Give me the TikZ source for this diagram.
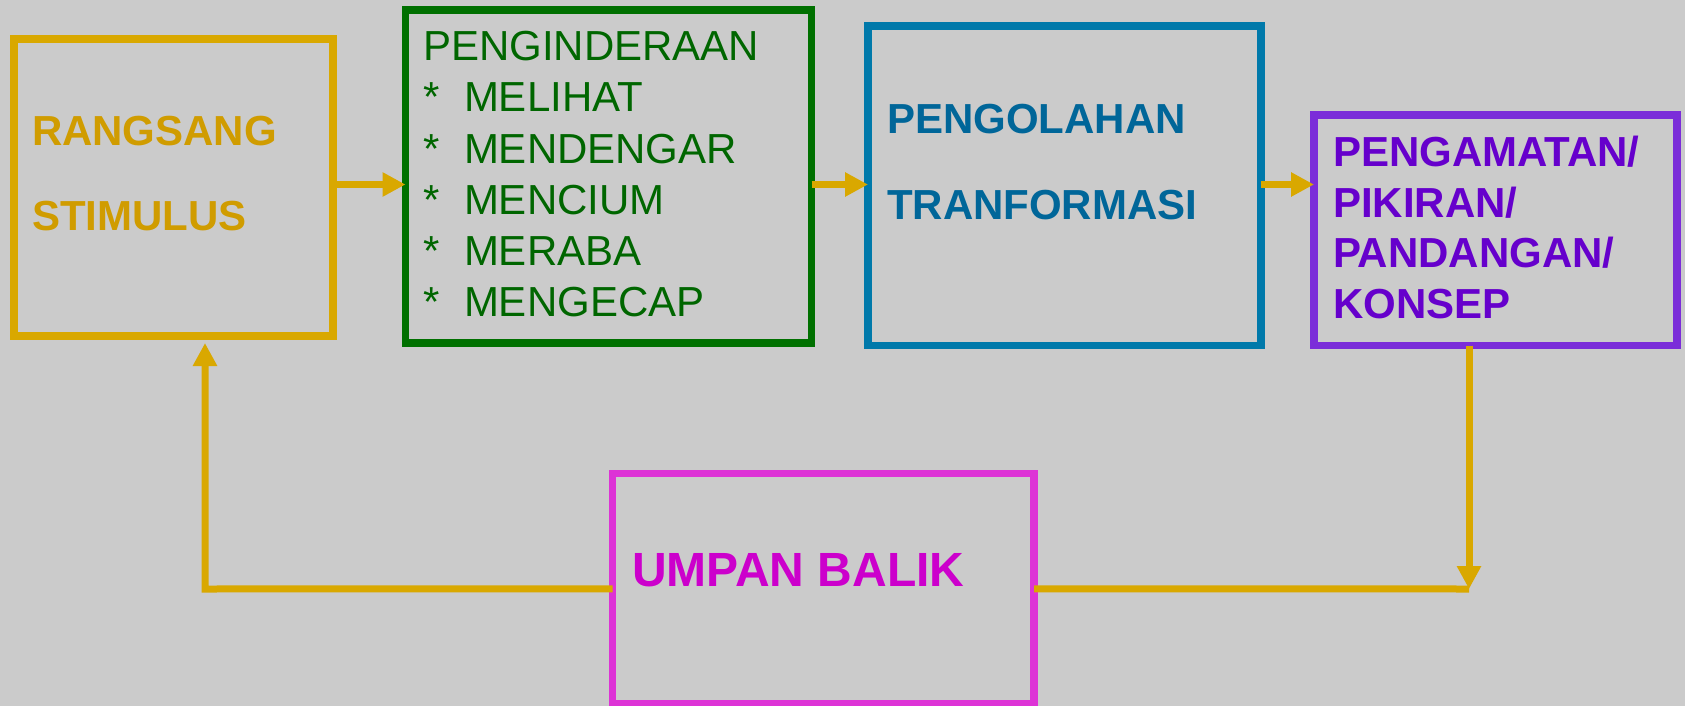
\documentclass[tikz,border=0pt]{standalone}
\usepackage{fontspec}
\setmainfont{Liberation Sans}
\usetikzlibrary{arrows.meta}
\definecolor{bg}{HTML}{CBCBCB}
\definecolor{gold}{HTML}{D9A800}
\definecolor{goldtxt}{HTML}{D09C00}
\definecolor{grn}{HTML}{007000}
\definecolor{grntxt}{HTML}{006600}
\definecolor{blu}{HTML}{0079AA}
\definecolor{blutxt}{HTML}{006699}
\definecolor{pur}{HTML}{7B2DD9}
\definecolor{purtxt}{HTML}{6600CC}
\definecolor{mag}{HTML}{DD33D6}
\definecolor{magtxt}{HTML}{CC00CC}
\begin{document}
\begin{tikzpicture}[x=1pt,y=-1pt,
  box/.style={draw,rectangle,inner sep=0pt,outer sep=0pt,line width=7.5pt},
  txt/.style={anchor=base west,inner sep=0pt,outer sep=0pt,font=\fontsize{42}{50}\selectfont},
  btxt/.style={txt,font=\fontsize{42}{50}\selectfont\bfseries},
  conn/.style={draw=gold,line width=7pt},
  arr/.style={conn,-{Triangle[length=23pt,width=23pt]}}]
\useasboundingbox[fill=bg] (0,0) rectangle (1685,706);
% boxes
\node[box,draw=gold,minimum width=319pt,minimum height=297pt] (ys) at (173.5,187.5) {};
\node[box,draw=grn,minimum width=406pt,minimum height=333pt] (gr) at (608.5,176.5) {};
\node[box,draw=blu,minimum width=393pt,minimum height=319.5pt] (bl) at (1064.5,185.75) {};
\node[box,draw=pur,minimum width=363pt,minimum height=230.5pt] (pu) at (1495.5,230.25) {};
\node[box,draw=mag,minimum width=421.5pt,minimum height=230.5pt] (ub) at (823.25,588.75) {};
% texts
\node[btxt,text=goldtxt] (t1) at (32,146) {RANGSANG};
\node[btxt,text=goldtxt] (t2) at (32,230) {STIMULUS};
\node[txt,text=grntxt] (g0) at (423,61) {PENGINDERAAN};
\foreach \w [count=\i] in {MELIHAT,MENDENGAR,MENCIUM,MERABA,MENGECAP}{
  \node[txt,text=grntxt] (s\i) at (423,{61+51*\i}) {*};
  \node[txt,text=grntxt] (g\i) at (464,{61+51*\i}) {\w};
}
\node[btxt,text=blutxt] (b1) at (887,133) {PENGOLAHAN};
\node[btxt,text=blutxt] (b2) at (887,219) {TRANFORMASI};
\foreach \w [count=\i] in {PENGAMATAN/,PIKIRAN/,PANDANGAN/,KONSEP}{
  \node[btxt,text=purtxt] (p\i) at (1333,{116.5+50.4*\i}) {\w};
}
\node[txt,font=\fontsize{48}{56}\selectfont\bfseries,text=magtxt] (u1) at (632,586) {UMPAN BALIK};
% connectors
\draw[arr] (ys.east |- 0,184.5) -- (gr.west |- 0,184.5);
\draw[arr] (gr.east |- 0,184.5) -- (bl.west |- 0,184.5);
\draw[arr] (bl.east |- 0,184.5) -- (pu.west |- 0,184.5);
\coordinate (fbL) at (205,589);
\coordinate (fbR) at (1469,589);
\draw[arr] (ub.west) -- (fbL) -- (fbL |- ys.south) [shorten >=7pt];
\draw[conn] (ub.east) -- (fbR);
\draw[arr] (pu.south -| fbR) -- (fbR);
\end{tikzpicture}
\end{document}
